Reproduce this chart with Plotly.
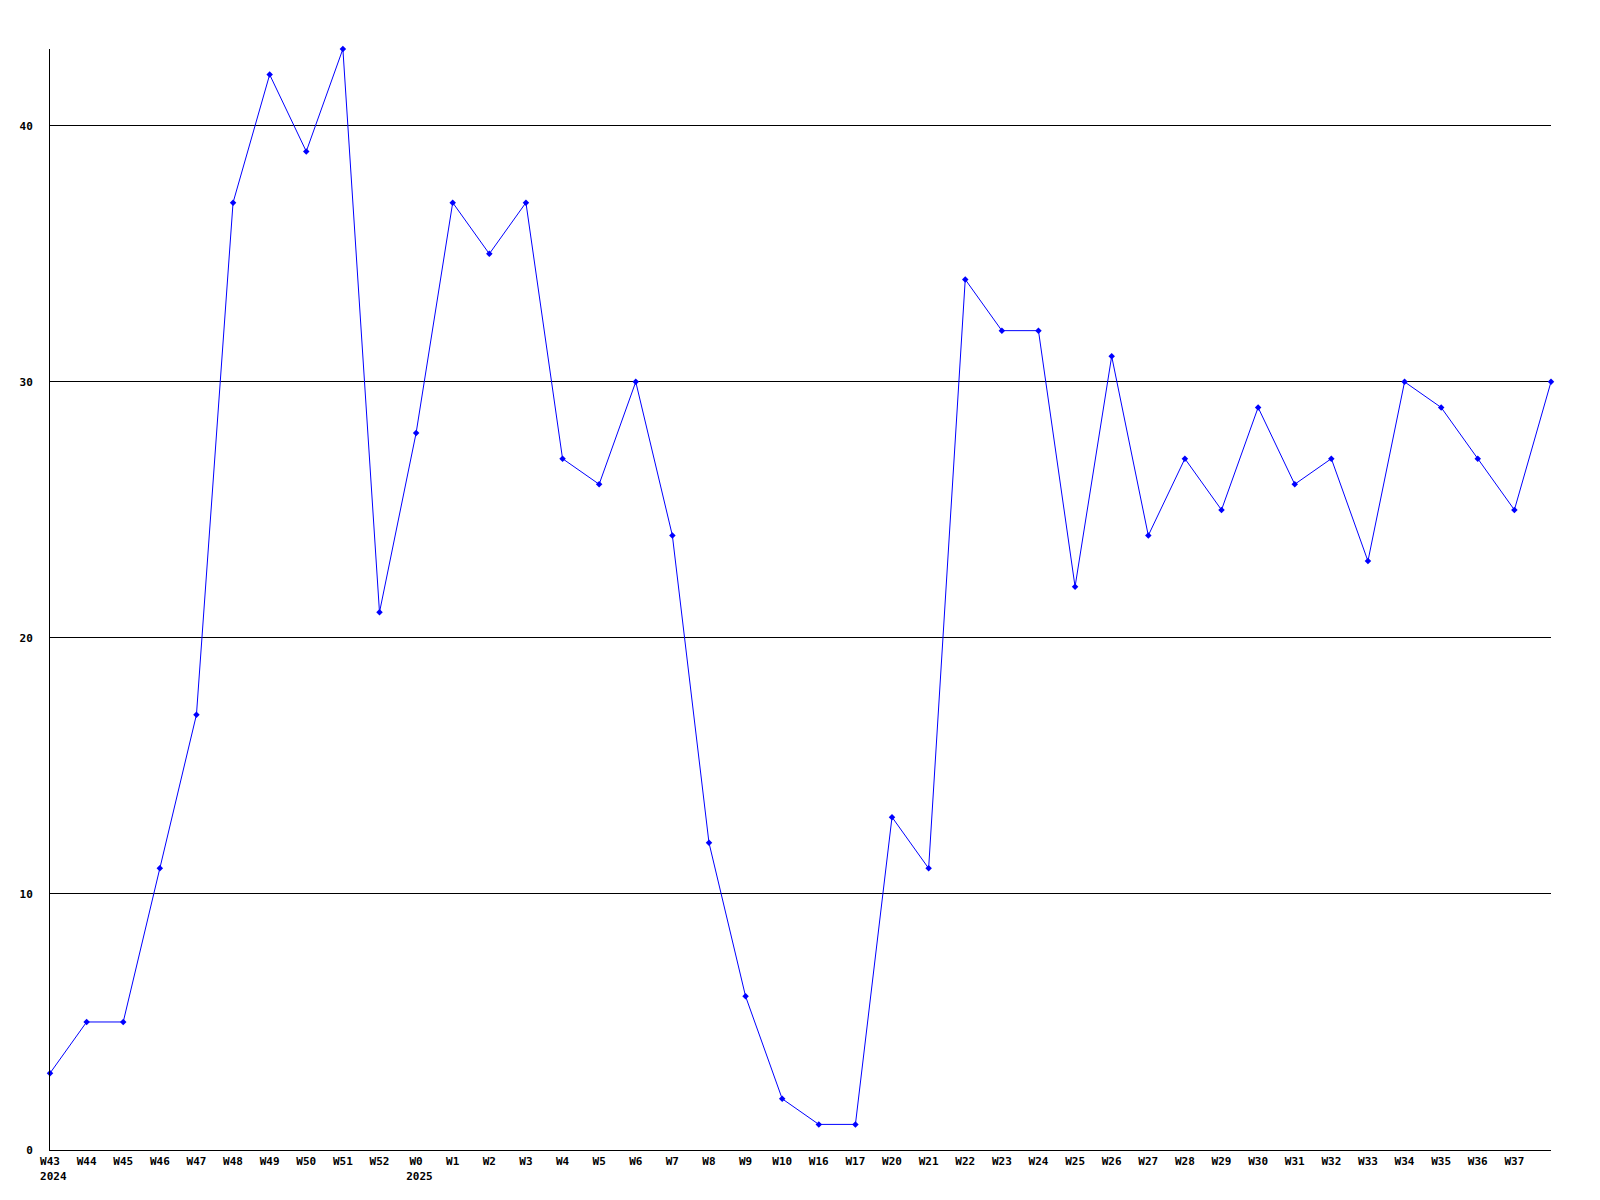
import plotly.graph_objects as go

weeks = ["W43", "W44", "W45", "W46", "W47", "W48", "W49", "W50", "W51", "W52",
         "W0", "W1", "W2", "W3", "W4", "W5", "W6", "W7", "W8", "W9", "W10",
         "W16", "W17", "W20", "W21", "W22", "W23", "W24", "W25", "W26", "W27",
         "W28", "W29", "W30", "W31", "W32", "W33", "W34", "W35", "W36", "W37", ""]
years = {"W43": "2024", "W0": "2025"}
values = [3, 5, 5, 11, 17, 37, 42, 39, 43, 21,
          28, 37, 35, 37, 27, 26, 30, 24, 12, 6, 2,
          1, 1, 13, 11, 34, 32, 32, 22, 31, 24,
          27, 25, 29, 26, 27, 23, 30, 29, 27, 25, 30]
y_ticks = [0, 10, 20, 30, 40]

xs = list(range(len(values)))
ticktext = [w + ("<br>&nbsp;" + years[w] if w in years else "") for w in weeks]

fig = go.Figure()
fig.add_trace(go.Scatter(
    x=xs, y=values, mode="lines+markers",
    line=dict(color="#0000FF", width=1),
    marker=dict(symbol="diamond", size=5, color="#0000FF"),
    cliponaxis=False, hoverinfo="skip",
))

font = dict(family="DejaVu Sans Mono", size=11, color="black", weight="bold")
fig.update_layout(
    width=1600, height=1200,
    margin=dict(l=42, r=57, t=41, b=58),
    paper_bgcolor="white", plot_bgcolor="white",
    showlegend=False,
    xaxis=dict(
        range=[0, len(values) - 1], tickmode="array",
        tickvals=xs, ticktext=ticktext,
        showgrid=False, zeroline=False,
        showline=True, linecolor="black", linewidth=1,
        ticks="", tickfont=font, ticklabelstandoff=1,
    ),
    yaxis=dict(
        range=[0, 43], tickmode="array", tickvals=y_ticks,
        showgrid=True, gridcolor="black", gridwidth=1,
        zeroline=False, showline=True, linecolor="black", linewidth=1,
        ticks="", tickfont=font, ticklabelstandoff=14,
    ),
)
fig.write_html("out.html")
